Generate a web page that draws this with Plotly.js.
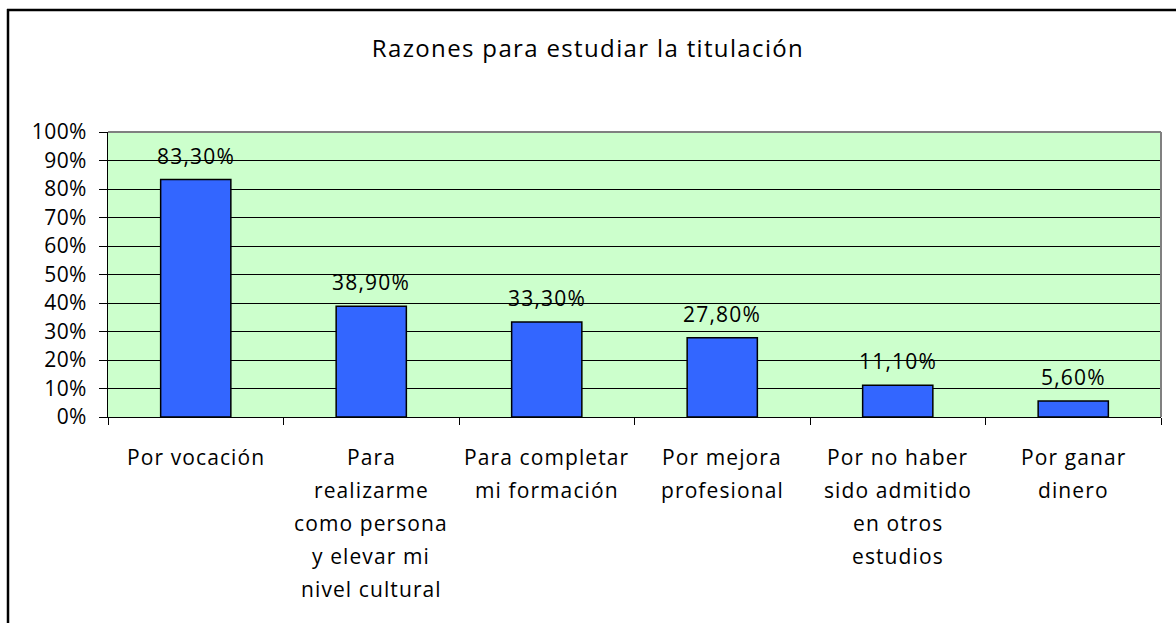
<!DOCTYPE html>
<html>
<head>
<meta charset="utf-8">
<script src="https://cdn.plot.ly/plotly-3.0.1.min.js"></script>
<style>
  html, body { margin: 0; padding: 0; background: #ffffff; }
  #chart { width: 1176px; height: 623px; }
</style>
</head>
<body>
<div id="chart"></div>
<script>
const titleText = 'Razones para estudiar la titulación';
const categories = [
  'Por vocación',
  'Para realizarme como persona y elevar mi nivel cultural',
  'Para completar mi formación',
  'Por mejora profesional',
  'Por no haber sido admitido en otros estudios',
  'Por ganar dinero'
];
const categoryLines = [
  ['Por vocación'],
  ['Para', 'realizarme', 'como persona', 'y elevar mi', 'nivel cultural'],
  ['Para completar', 'mi formación'],
  ['Por mejora', 'profesional'],
  ['Por no haber', 'sido admitido', 'en otros', 'estudios'],
  ['Por ganar', 'dinero']
];
const values = [83.3, 38.9, 33.3, 27.8, 11.1, 5.6];
const yTickVals = [0, 10, 20, 30, 40, 50, 60, 70, 80, 90, 100];
const yTickText = ['0%', '10%', '20%', '30%', '40%', '50%', '60%', '70%', '80%', '90%', '100%'];

const FONT = '"Open Sans", Lato, sans-serif';
const fmt = v => v.toFixed(2).replace('.', ',') + '%';
const spaced = (t, ls) => '<span style="letter-spacing:' + ls + 'px">' + t + '</span>';

const W = 1176, H = 623;
const mL = 108, mR = 15, mT = 132, mB = 206;
const pw = W - mL - mR, ph = H - mT - mB;
const px = x => (x - mL) / pw;
const py = y => (H - mB - y) / ph;

const annotations = [];
values.forEach((v, i) => {
  annotations.push({
    x: categories[i], y: v, xref: 'x', yref: 'y',
    text: spaced(fmt(v), 1.2), showarrow: false, yanchor: 'middle', yshift: 24,
    font: { family: FONT, size: 21, color: '#000000' }
  });
});
categoryLines.forEach((lines, i) => {
  lines.forEach((ln, j) => {
    annotations.push({
      x: categories[i], y: 0, xref: 'x', yref: 'y',
      text: spaced(ln, 1.1), showarrow: false, yanchor: 'middle', yshift: -40 - 33 * j,
      font: { family: FONT, size: 21, color: '#000000' }
    });
  });
});

const trace = {
  type: 'bar',
  x: categories,
  y: values,
  marker: { color: '#3366FF', line: { color: '#000000', width: 1.5 } },
  hoverinfo: 'none'
};

const layout = {
  width: W, height: H,
  margin: { l: mL, r: mR, t: mT, b: mB, pad: 0 },
  paper_bgcolor: '#ffffff',
  plot_bgcolor: '#CCFFCC',
  showlegend: false,
  bargap: 0.6,
  title: {
    text: spaced(titleText, 1.35),
    font: { family: FONT, size: 24, color: '#000000' },
    x: 0.5, xref: 'container', xanchor: 'center',
    y: 1 - 49 / H, yref: 'container', yanchor: 'middle'
  },
  xaxis: {
    type: 'category',
    showticklabels: false,
    tickson: 'boundaries',
    ticks: 'outside', ticklen: 7, tickcolor: '#000000', tickwidth: 1,
    showline: true, linecolor: '#000000', linewidth: 1,
    showgrid: false, zeroline: false, fixedrange: true
  },
  yaxis: {
    range: [0, 100],
    tickvals: yTickVals, ticktext: yTickText.map(t => spaced(t, 0.4)),
    ticks: 'outside', ticklen: 8, tickcolor: '#000000', tickwidth: 1,
    tickfont: { family: FONT, size: 21, color: '#000000' },
    ticklabelstandoff: 8,
    showline: true, linecolor: '#000000', linewidth: 1,
    showgrid: true, gridcolor: '#000000', gridwidth: 1,
    zeroline: false, fixedrange: true
  },
  annotations: annotations,
  shapes: [
    { type: 'line', xref: 'paper', yref: 'paper', x0: 0, x1: 1, y0: 1, y1: 1,
      line: { color: '#808080', width: 2 } },
    { type: 'line', xref: 'paper', yref: 'paper', x0: 1, x1: 1, y0: 0, y1: 1,
      line: { color: '#808080', width: 2 } },
    { type: 'line', xref: 'paper', yref: 'paper', x0: px(8), x1: px(8), y0: py(9), y1: py(H + 5),
      line: { color: '#000000', width: 2.5 } },
    { type: 'line', xref: 'paper', yref: 'paper', x0: px(7), x1: px(W + 5), y0: py(10), y1: py(10),
      line: { color: '#000000', width: 2.5 } }
  ]
};

Plotly.newPlot('chart', [trace], layout, { displayModeBar: false, staticPlot: true });
</script>
</body>
</html>
